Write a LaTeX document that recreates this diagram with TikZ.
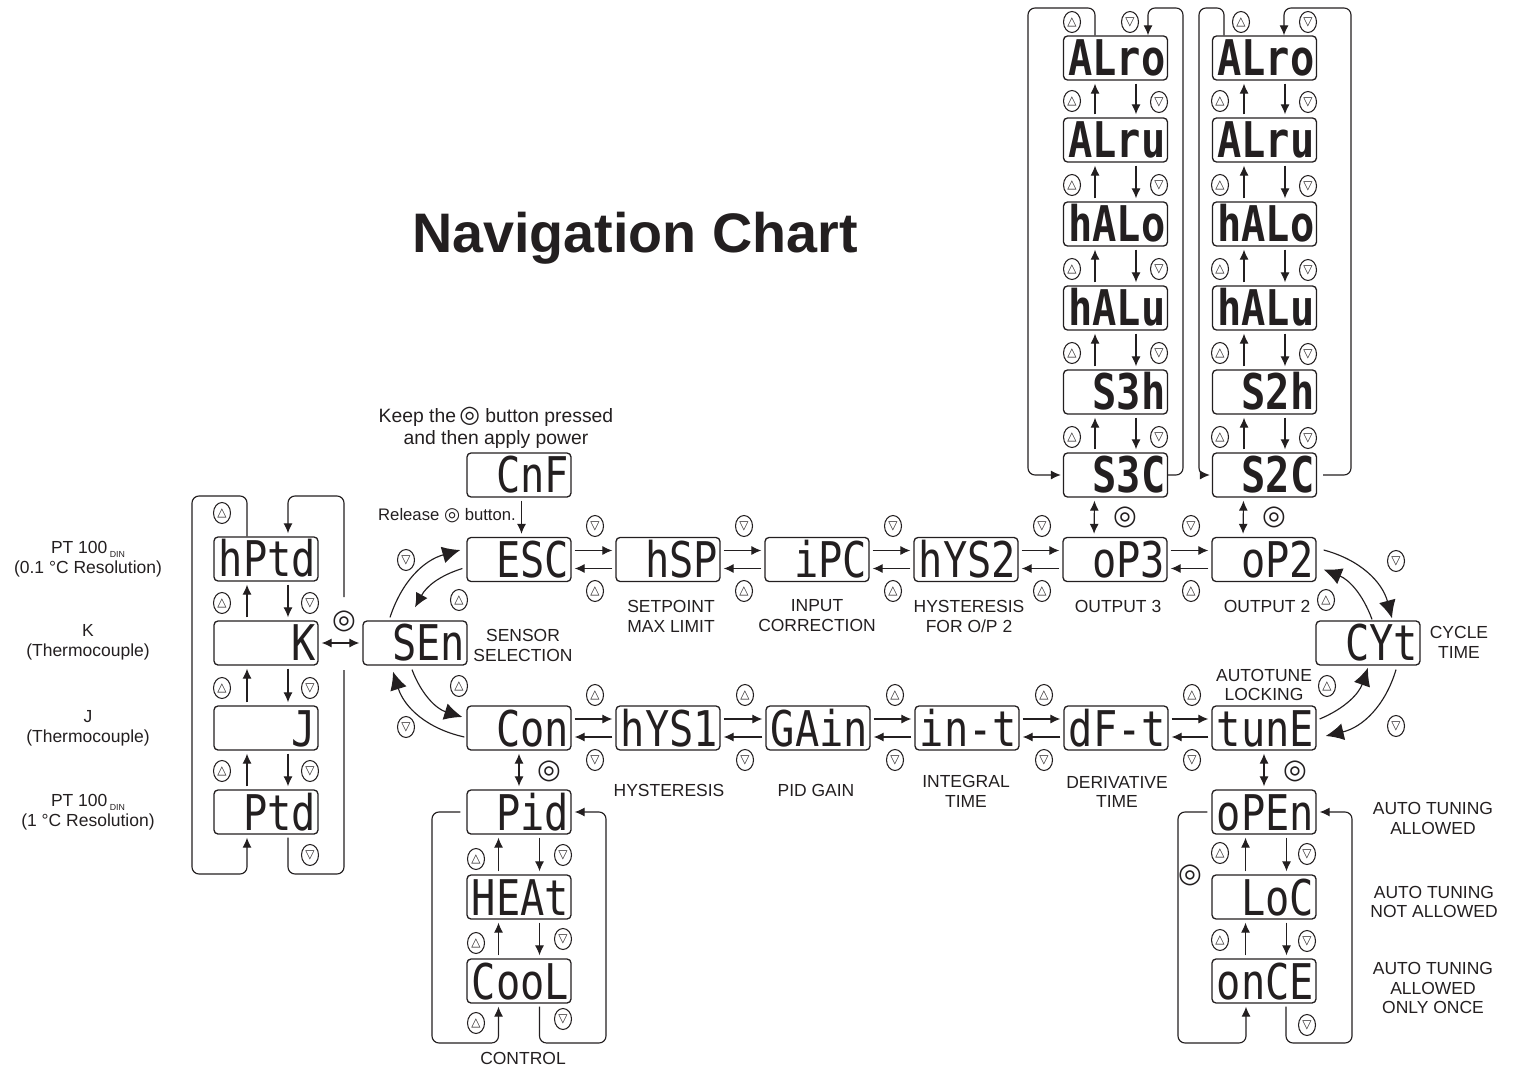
\documentclass[tikz,border=0pt]{standalone}
\usepackage{fontspec}
\usepackage{tikz}
\usetikzlibrary{arrows.meta,shapes.geometric}
\setmainfont{Liberation Sans}
\newfontfamily\segfont[FakeStretch=.82]{DejaVu Sans Mono}
\newfontfamily\symfont{DejaVu Sans}
\definecolor{ink}{HTML}{231F20}
\newcommand{\din}{\raisebox{-.4ex}{\fontsize{5}{5}\selectfont\ DIN}}
\newcommand{\btn}[1]{{\symfont\fontsize{#1}{#1}\selectfont ◎}}
% arrow pairs between neighbouring displays
\newcommand{\lnkH}[2]{%
  \draw[arr] ([yshift=.18cm]#1.east) -- ([yshift=.18cm]#2.west);
  \draw[arr] ([yshift=-.18cm]#2.west) -- ([yshift=-.18cm]#1.east);}
\newcommand{\lnkV}[3][0cm]{%
  \draw[arr] ([xshift={-.41cm+#1}]#2.north) -- ([xshift={-.41cm+#1}]#3.south);
  \draw[arr] ([xshift={.41cm+#1}]#3.south) -- ([xshift={.41cm+#1}]#2.north);}

\begin{document}
\begin{tikzpicture}[
      x=.02cm, y=-.02cm, ink, line width=.65pt,
      disp/.style={draw=ink, rounded corners=.08cm, line width=.75pt, inner xsep=.04cm, inner ysep=0pt,
                   text width=2cm, align=right, minimum height=.88cm,
                   text height=.72cm, text depth=0pt, font=\segfont\fontsize{28}{28}\selectfont},
      dispB/.style={disp, font=\segfont\bfseries\fontsize{28}{28}\selectfont},
      up/.style={ellipse, draw=ink, line width=.6pt, minimum width=.34cm, minimum height=.42cm,
                 inner sep=0pt, font=\symfont\fontsize{6.8}{6.8}\selectfont},
      enterbtn/.style={inner sep=0pt, font=\symfont\fontsize{15.5}{15.5}\selectfont},
      lbl/.style={align=center, inner sep=0pt, font=\fontsize{9.95}{11.3}\selectfont},
      arr/.style={-{Latex[length=.2cm,width=.18cm]}, shorten <=1.7pt, shorten >=1.7pt},
      arrD/.style={{Latex[length=.2cm,width=.18cm]}-{Latex[length=.2cm,width=.18cm]}, shorten <=1.7pt, shorten >=1.7pt},
      arrM/.style={-{Latex[length=.28cm,width=.26cm]}},
      arrB/.style={-{Latex[length=.36cm,width=.34cm]}},
      wrap/.style={-{Latex[length=.2cm,width=.18cm]}, rounded corners=.14cm},
    ]
    \useasboundingbox (0,0) rectangle (1514,1067);

    \node[font=\bfseries\fontsize{31.7}{36}\selectfont] (title) at (635,238) {Navigation Chart};

    % sensor column
    \node[disp] (hpt) at (266,559) {hPtd};
    \node[disp] (kty) at (266,643) {K};
    \node[disp] (jty) at (266,728) {J};
    \node[disp] (ptd) at (266,812) {Ptd};
    \node[disp] (sen) at (415,643) {SEn};
    \node[disp] (cnf) at (519,475) {CnF};

    % main rows
    \node[disp] (esc) at (519,559.5)  {ESC};
    \node[disp] (hsp) at (668,559.5)  {hSP};
    \node[disp] (ipc) at (817,559.5)  {iPC};
    \node[disp] (hy2) at (966,559.5)  {hYS2};
    \node[disp] (op3) at (1115,559.5) {oP3};
    \node[disp] (op2) at (1264,559.5) {oP2};
    \node[disp] (cyt) at (1368,643)   {CYt};
    \node[disp] (con) at (519,728)    {Con};
    \node[disp] (hy1) at (668,728)    {hYS1};
    \node[disp] (gai) at (818,728)    {GAin};
    \node[disp] (int) at (967,728)    {\mbox{in-t}};
    \node[disp] (dft) at (1116,728)   {\mbox{dF-t}};
    \node[disp] (tun) at (1264,728)   {tunE};

    % control and autotune columns
    \node[disp] (pid) at (519,812)  {Pid};
    \node[disp] (hea) at (519,897)  {HEAt};
    \node[disp] (coo) at (519,981)  {CooL};
    \node[disp] (opn) at (1264,812) {oPEn};
    \node[disp] (loc) at (1264,897) {LoC};
    \node[disp] (onc) at (1264,981) {onCE};

    % output 3 column
    \node[dispB] (aro3) at (1115.5,58)  {ALro};
    \node[dispB] (aru3) at (1115.5,140) {ALru};
    \node[dispB] (hao3) at (1115.5,224) {hALo};
    \node[dispB] (hau3) at (1115.5,308) {hALu};
    \node[dispB] (s3h)  at (1115.5,392) {S3h};
    \node[dispB] (s3c)  at (1115.5,475) {S3C};

    % output 2 column
    \node[dispB] (aro2) at (1264.5,58)  {ALro};
    \node[dispB] (aru2) at (1264.5,140) {ALru};
    \node[dispB] (hao2) at (1264.5,224) {hALo};
    \node[dispB] (hau2) at (1264.5,308) {hALu};
    \node[dispB] (s2h)  at (1264.5,392) {S2h};
    \node[dispB] (s2c)  at (1264.5,475) {S2C};

    % labels
    \node[lbl] (l1)  at (88,559.5)  {PT 100\din\\(0.1 °C Resolution)};
    \node[lbl] (l2)  at (88,642)    {K\\(Thermocouple)};
    \node[lbl] (l3)  at (88,728.5)  {J\\(Thermocouple)};
    \node[lbl] (l4)  at (88,812)    {PT 100\din\\(1 °C Resolution)};
    \node[lbl] (l5)  at (523,645.5) {SENSOR\\SELECTION};
    \node[lbl,font=\fontsize{11}{12.5}\selectfont] (l6) at (496,427.5) {Keep the\,\btn{13.5} button pressed\\and then apply power};
    \node[lbl,font=\fontsize{9.5}{11}\selectfont] (l7) at (447,515.5) {Release \btn{10.5} button.};
    \node[lbl] (l8)  at (671,616.5) {SETPOINT\\MAX LIMIT};
    \node[lbl] (l9)  at (817,615.5) {INPUT\\CORRECTION};
    \node[lbl] (l10) at (969,616.5) {HYSTERESIS\\FOR O/P 2};
    \node[lbl] (l11) at (1118,606)  {OUTPUT 3};
    \node[lbl] (l12) at (1267,606)  {OUTPUT 2};
    \node[lbl] (l13) at (1459,642)  {CYCLE\\TIME};
    \node[lbl] (l14) at (1264,685)  {AUTOTUNE\\LOCKING};
    \node[lbl] (l15) at (669,790)   {HYSTERESIS};
    \node[lbl] (l16) at (816,790)   {PID GAIN};
    \node[lbl] (l17) at (966,791)   {INTEGRAL\\TIME};
    \node[lbl] (l18) at (1117,792)  {DERIVATIVE\\TIME};
    \node[lbl] (l19) at (1433,818.5){AUTO TUNING\\ALLOWED};
    \node[lbl] (l20) at (1434,902)  {AUTO TUNING\\NOT ALLOWED};
    \node[lbl] (l21) at (1433,988)  {AUTO TUNING\\ALLOWED\\ONLY ONCE};
    \node[lbl] (l22) at (523,1058)  {CONTROL};

    % buttons, sensor column
    \node[up] (u1) at (222,513) {△};
    \node[up] (u2) at (222,603) {△};
    \node[up] (d2) at (310,603) {▽};
    \node[up] (u3) at (222,688) {△};
    \node[up] (d3) at (310,688) {▽};
    \node[up] (u4) at (222,771) {△};
    \node[up] (d4) at (310,771) {▽};
    \node[up] (d5) at (310,855) {▽};
    \node[enterbtn] (e1) at (344,621) {◎};

    % buttons round SEn
    \node[up] (d6) at (406,560) {▽};
    \node[up] (u6) at (459,600) {△};
    \node[up] (u7) at (459,686) {△};
    \node[up] (d7) at (406,727) {▽};

    % buttons, top row
    \node[up] (d8)  at (595,526)  {▽};
    \node[up] (u8)  at (595,591)  {△};
    \node[up] (d9)  at (744,526)  {▽};
    \node[up] (u9)  at (744,591)  {△};
    \node[up] (d10) at (893,526)  {▽};
    \node[up] (u10) at (893,591)  {△};
    \node[up] (d11) at (1042,526) {▽};
    \node[up] (u11) at (1042,591) {△};
    \node[up] (d12) at (1191,526) {▽};
    \node[up] (u12) at (1191,591) {△};

    % buttons, bottom row
    \node[up] (u13) at (595,695)  {△};
    \node[up] (d13) at (595,760)  {▽};
    \node[up] (u14) at (745,695)  {△};
    \node[up] (d14) at (745,760)  {▽};
    \node[up] (u15) at (895,695)  {△};
    \node[up] (d15) at (895,760)  {▽};
    \node[up] (u16) at (1044,695) {△};
    \node[up] (d16) at (1044,760) {▽};
    \node[up] (u17) at (1192,695) {△};
    \node[up] (d17) at (1192,760) {▽};

    % buttons round CYt
    \node[up] (d18) at (1396,561) {▽};
    \node[up] (u18) at (1326,600) {△};
    \node[up] (u19) at (1327,686) {△};
    \node[up] (d19) at (1396,726) {▽};

    % buttons, output 3 column
    \node[up] (u20) at (1072,22)  {△};
    \node[up] (d20) at (1130,22)  {▽};
    \node[up] (u21) at (1072,101) {△};
    \node[up] (d21) at (1159,102) {▽};
    \node[up] (u22) at (1072,185) {△};
    \node[up] (d22) at (1159,185) {▽};
    \node[up] (u23) at (1072,269) {△};
    \node[up] (d23) at (1159,269) {▽};
    \node[up] (u24) at (1072,353) {△};
    \node[up] (d24) at (1159,353) {▽};
    \node[up] (u25) at (1072,437) {△};
    \node[up] (d25) at (1159,437) {▽};

    % buttons, output 2 column
    \node[up] (u26) at (1241,22)  {△};
    \node[up] (d26) at (1308,22)  {▽};
    \node[up] (u27) at (1220,101) {△};
    \node[up] (d27) at (1308,102) {▽};
    \node[up] (u28) at (1220,185) {△};
    \node[up] (d28) at (1308,186) {▽};
    \node[up] (u29) at (1220,269) {△};
    \node[up] (d29) at (1308,270) {▽};
    \node[up] (u30) at (1220,353) {△};
    \node[up] (d30) at (1308,354) {▽};
    \node[up] (u31) at (1220,437) {△};
    \node[up] (d31) at (1308,438) {▽};

    % buttons, control and autotune columns
    \node[up] (u32) at (476,859)  {△};
    \node[up] (d32) at (563,855)  {▽};
    \node[up] (u33) at (476,943)  {△};
    \node[up] (d33) at (563,939)  {▽};
    \node[up] (u34) at (476,1023) {△};
    \node[up] (d34) at (563,1019) {▽};
    \node[up] (u35) at (1220,853) {△};
    \node[up] (d35) at (1307,854) {▽};
    \node[up] (u36) at (1220,940) {△};
    \node[up] (d36) at (1307,941) {▽};
    \node[up] (d37) at (1307,1025) {▽};

    % enter buttons
    \node[enterbtn] (e2) at (1125,517) {◎};
    \node[enterbtn] (e3) at (1274,517) {◎};
    \node[enterbtn] (e4) at (549,771)  {◎};
    \node[enterbtn] (e5) at (1295,771) {◎};
    \node[enterbtn] (e6) at (1190,875) {◎};

    % rows
    \lnkH{esc}{hsp} \lnkH{hsp}{ipc} \lnkH{ipc}{hy2} \lnkH{hy2}{op3} \lnkH{op3}{op2}
    \lnkH{con}{hy1} \lnkH{hy1}{gai} \lnkH{gai}{int} \lnkH{int}{dft} \lnkH{dft}{tun}

    % columns
    \lnkV[.03cm]{kty}{hpt} \lnkV[.03cm]{jty}{kty} \lnkV[.03cm]{ptd}{jty}
    \lnkV{hea}{pid} \lnkV{coo}{hea}
    \lnkV[.04cm]{loc}{opn} \lnkV[.04cm]{onc}{loc}
    \lnkV{aru3}{aro3} \lnkV{hao3}{aru3} \lnkV{hau3}{hao3} \lnkV{s3h}{hau3} \lnkV{s3c}{s3h}
    \lnkV{aru2}{aro2} \lnkV{hao2}{aru2} \lnkV{hau2}{hao2} \lnkV{s2h}{hau2} \lnkV{s2c}{s2h}

    % double arrows
    \draw[arrD] (kty.east) -- (sen.west);
    \draw[arrD] ([xshift=-.42cm]op3.north) -- ([xshift=-.42cm]s3c.south);
    \draw[arrD] ([xshift=-.42cm]op2.north) -- ([xshift=-.42cm]s2c.south);
    \draw[arrD] (con.south) -- (pid.north);
    \draw[arrD] (tun.south) -- (opn.north);
    \draw[arr]  ([xshift=.05cm]cnf.south) -- ([xshift=.05cm]esc.north);

    % curves round SEn
    \draw[arrB] ([xshift=-.5cm,yshift=.06cm]sen.north) to[bend left=28] ([xshift=-.12cm,yshift=.19cm]esc.west);
    \draw[arrM] ([xshift=-.08cm,yshift=-.18cm]esc.west) to[bend right=22] ([yshift=.26cm]sen.north);
    \draw[arrB] ([xshift=-.06cm,yshift=-.08cm]sen.south) to[bend right=26] ([xshift=-.08cm,yshift=.22cm]con.west);
    \draw[arrB] ([xshift=-.04cm,yshift=-.18cm]con.west) to[bend left=30] ([xshift=-.44cm,yshift=-.12cm]sen.south);

    % curves round CYt
    \draw[arrB] ([xshift=.14cm,yshift=.19cm]op2.east) to[bend left=30] ([xshift=.48cm,yshift=.04cm]cyt.north);
    \draw[arrB] ([xshift=.08cm,yshift=.02cm]cyt.north) to[bend right=24] ([xshift=.14cm,yshift=-.2cm]op2.east);
    \draw[arrB] ([xshift=.06cm,yshift=.18cm]tun.east) to[bend right=24] ([yshift=-.04cm]cyt.south);
    \draw[arrB] ([xshift=.56cm,yshift=-.08cm]cyt.south) to[bend left=30] ([xshift=.18cm,yshift=-.16cm]tun.east);

    % wrap-around lines
    \draw[wrap] ([xshift=-.38cm]hpt.north) -- (247,496) -- (192,496) -- (192,874) -- (247,874) -- ([xshift=-.38cm,yshift=-.06cm]ptd.south);
    \coordinate (k1) at (344,670);
    \coordinate (k2) at (344,597);
    \draw[rounded corners=.14cm] ([xshift=.44cm,yshift=-.06cm]ptd.south) -- (288,874) -- (344,874) -- (k1);
    \draw[wrap] (k2) -- (344,496) -- (288,496) -- ([xshift=.44cm,yshift=.06cm]hpt.north);

    \draw[wrap] ([xshift=-.41cm]aro3.north) -- (1095,8) -- (1028,8) -- (1028,475) -- ([xshift=-.04cm]s3c.west);
    \draw[wrap] (s3c.east) -- (1183,475) -- (1183,8) -- (1148,8) -- ([xshift=.65cm]aro3.north);
    \draw[wrap] ([xshift=-.81cm]aro2.north) -- (1224,8) -- (1199,8) -- (1199,475) -- ([xshift=-.04cm]s2c.west);
    \draw[wrap] ([xshift=.12cm]s2c.east) -- (1351,475) -- (1351,8) -- (1284,8) -- ([xshift=.39cm]aro2.north);

    \draw[wrap] ([xshift=-.12cm]pid.west) -- (432,812) -- (432,1043) -- (498.5,1043) -- ([xshift=-.41cm,yshift=-.06cm]coo.south);
    \draw[wrap] ([xshift=.41cm,yshift=-.06cm]coo.south) -- (539.5,1043) -- (606,1043) -- (606,812) -- ([xshift=.06cm]pid.east);
    \draw[wrap] ([xshift=-.08cm]opn.west) -- (1178,812) -- (1178,1043) -- (1246,1043) -- ([xshift=-.36cm,yshift=-.06cm]onc.south);
    \draw[wrap] ([xshift=.44cm,yshift=-.06cm]onc.south) -- (1286,1043) -- (1352,1043) -- (1352,812) -- ([xshift=.06cm]opn.east);
  \end{tikzpicture}
\end{document}
